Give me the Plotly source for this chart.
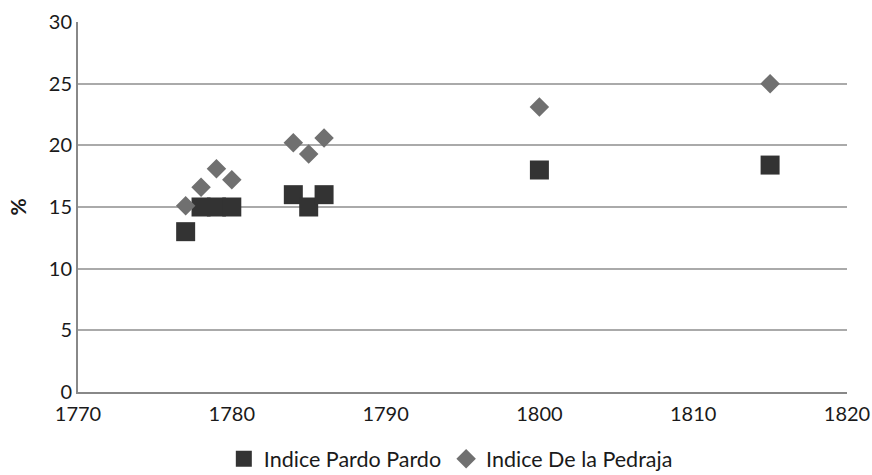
import plotly.graph_objects as go

years_pardo = [1777, 1778, 1779, 1780, 1784, 1785, 1786, 1800, 1815]
pardo = [13, 15, 15, 15, 16, 15, 16, 18, 18.4]
years_pedraja = [1777, 1778, 1779, 1780, 1784, 1785, 1786, 1800, 1815]
pedraja = [15.1, 16.6, 18.1, 17.2, 20.2, 19.3, 20.6, 23.1, 25.0]

font_family = "Lato, Open Sans, sans-serif"

fig = go.Figure()
fig.add_trace(go.Scatter(
    x=years_pardo, y=pardo, mode="markers", name="Indice Pardo Pardo",
    marker=dict(symbol="square", size=19, color="#333333", line=dict(width=0)),
))
fig.add_trace(go.Scatter(
    x=years_pedraja, y=pedraja, mode="markers", name="Indice De la Pedraja",
    marker=dict(symbol="diamond", size=15, color="#707070", line=dict(width=0)),
))

fig.update_layout(
    width=872, height=475,
    margin=dict(l=78, r=25, t=22, b=83, autoexpand=False),
    paper_bgcolor="white", plot_bgcolor="white",
    font=dict(family=font_family, size=20, color="#1a1a1a"),
    showlegend=True,
    legend=dict(orientation="h", x=0.517, xanchor="center", xref="container",
                y=0.034, yanchor="middle", yref="container",
                font=dict(size=21.5), itemwidth=30),
    xaxis=dict(range=[1770, 1820], dtick=10, tick0=1770, showgrid=False,
               showline=True, linecolor="#888888", linewidth=2,
               ticks="", ticklabeloverflow="allow", ticklabelstandoff=3,
               zeroline=False, automargin=False),
    yaxis=dict(range=[0, 30], dtick=5, showgrid=True, gridcolor="#aaaaaa", gridwidth=1.5,
               showline=True, linecolor="#888888", linewidth=2,
               ticks="",
               zeroline=False, automargin=False,
               title=dict(text="<b>%</b>", font=dict(size=21), standoff=16)),
)

# remove the default page margin so the 872x475 figure fills the window exactly
fig.write_html("out.html",
               config={"displayModeBar": False},
               post_script="document.body.style.margin='0';document.body.style.overflow='hidden';")
